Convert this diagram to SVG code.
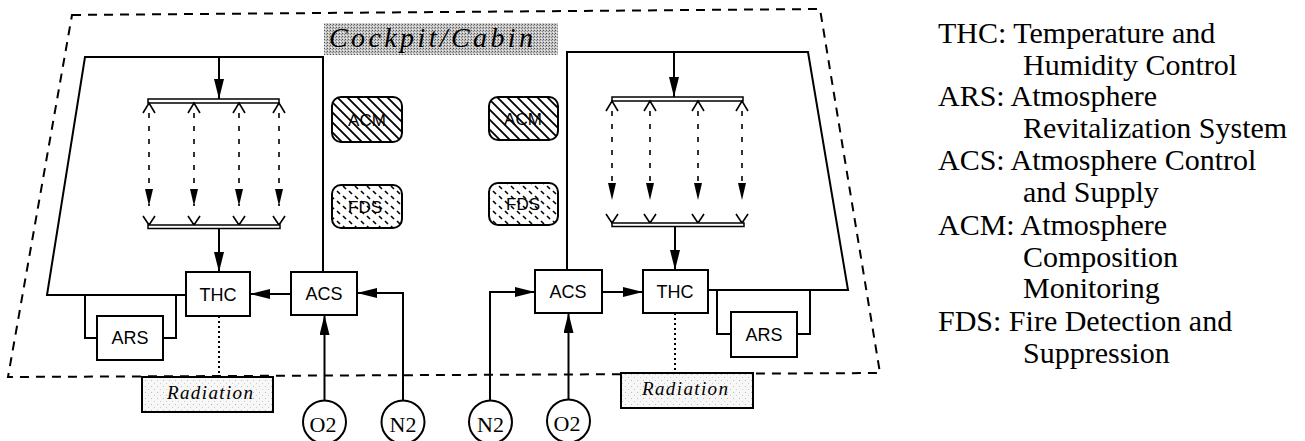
<svg xmlns="http://www.w3.org/2000/svg" width="1305" height="441" viewBox="0 0 1305 441">
<style>
.box{fill:#fff;stroke:#000;stroke-width:2}
.ln{fill:none;stroke:#000;stroke-width:2}
.thin{fill:none;stroke:#000;stroke-width:1.6}
.bus{fill:#fff;stroke:#000;stroke-width:1.5}
.dsh{fill:none;stroke:#000;stroke-width:1.6;stroke-dasharray:5 8}
.dot{fill:none;stroke:#000;stroke-width:2;stroke-dasharray:2 3}
.sans{font-family:"Liberation Sans",Arial,sans-serif;font-size:18px;fill:#000;text-anchor:middle}
.lbl{font-family:"Liberation Sans",Arial,sans-serif;font-size:17px;fill:#000;text-anchor:middle}
.ser{font-family:"Liberation Serif","Times New Roman",serif;font-size:22px;fill:#000;text-anchor:middle}
.ital{font-family:"Liberation Serif","Times New Roman",serif;font-style:italic;fill:#000}
.leg{font-family:"Liberation Serif","Times New Roman",serif;font-size:30px;fill:#000}
</style>
<defs>
<marker id="ah" markerUnits="userSpaceOnUse" markerWidth="20" markerHeight="10" refX="20" refY="5" orient="auto"><path d="M0,0 L20,5 L0,10 Z" fill="#000"/></marker>
<marker id="ahs" markerUnits="userSpaceOnUse" markerWidth="17" markerHeight="8" refX="17" refY="4" orient="auto"><path d="M0,0 L17,4 L0,8 Z" fill="#000"/></marker>
<pattern id="stip" width="3" height="3" patternUnits="userSpaceOnUse"><rect width="3" height="3" fill="#c4c4c4"/><rect x="0" y="0" width="1" height="1" fill="#555"/><rect x="2" y="1" width="1" height="1" fill="#888"/><rect x="1" y="2" width="1" height="1" fill="#eee"/></pattern>
<pattern id="light" width="6" height="6" patternUnits="userSpaceOnUse"><rect width="6" height="6" fill="#f7f7f7"/><rect x="1" y="2" width="1" height="1" fill="#bbb"/><rect x="4" y="5" width="1" height="1" fill="#ccc"/></pattern>
<pattern id="hatch" width="10" height="10" patternUnits="userSpaceOnUse"><rect width="10" height="10" fill="#fff"/><path d="M-2,-2 L12,12 M-2,8 L2,12 M8,-2 L12,2" stroke="#000" stroke-width="1.8"/></pattern>
<pattern id="fds" width="12" height="10" patternUnits="userSpaceOnUse"><rect width="12" height="10" fill="#fff"/><path d="M1,1 L4,4 M7,6 L10,9" stroke="#000" stroke-width="1.6"/></pattern>
</defs>

<g id="boundary">
<path d="M72,15 L820,9 L880,373 L8,377 Z" fill="none" stroke="#000" stroke-width="2" stroke-dasharray="9 7"/>
</g>

<g id="cockpit-label">
<rect x="324" y="23" width="234" height="32" fill="url(#stip)"/>
<text class="ital" x="329" y="47" font-size="28" textLength="204" lengthAdjust="spacing">Cockpit/Cabin</text>
</g>

<g id="connectors">
<polyline class="ln" points="186,295 47,295 85,57 323,57 323,272"/>
<line class="ln" x1="219" y1="57" x2="219" y2="99" marker-end="url(#ah)"/>
<rect class="bus" x="148" y="99" width="131" height="4"/>
<path class="thin" d="M143,113 L149,103 L155,113 M188,113 L194,103 L200,113 M233,113 L239,103 L245,113 M273,113 L279,103 L285,113"/>
<line class="dsh" x1="149" y1="113" x2="149" y2="206" marker-end="url(#ahs)"/>
<line class="dsh" x1="194" y1="113" x2="194" y2="206" marker-end="url(#ahs)"/>
<line class="dsh" x1="239" y1="113" x2="239" y2="206" marker-end="url(#ahs)"/>
<line class="dsh" x1="279" y1="113" x2="279" y2="206" marker-end="url(#ahs)"/>
<path class="thin" d="M143,216 L149,225 L155,216 M188,216 L194,225 L200,216 M233,216 L239,225 L245,216 M273,216 L279,225 L285,216"/>
<rect class="bus" x="148" y="225" width="132" height="3.5"/>
<line class="ln" x1="219" y1="228" x2="219" y2="272" marker-end="url(#ah)"/>
<polyline class="ln" points="85,295 85,338 97,338"/>
<polyline class="ln" points="163,338 176,338 176,295"/>
<line class="ln" x1="291" y1="294" x2="250" y2="294" marker-end="url(#ah)"/>
<line class="ln" x1="324.5" y1="400" x2="324.5" y2="315" marker-end="url(#ah)"/>
<polyline class="ln" points="403,400 403,293 357,293" marker-end="url(#ah)"/>
<line class="dot" x1="219" y1="316" x2="219" y2="377"/>
<polyline class="ln" points="708,290 848,290 808,52 567,52 567,270"/>
<line class="ln" x1="674" y1="52" x2="674" y2="97" marker-end="url(#ah)"/>
<rect class="bus" x="612" y="97" width="131" height="4"/>
<path class="thin" d="M606,111 L612,101 L618,111 M644,111 L650,101 L656,111 M692,111 L698,101 L704,111 M736,111 L742,101 L748,111"/>
<line class="dsh" x1="612" y1="111" x2="612" y2="200" marker-end="url(#ahs)"/>
<line class="dsh" x1="650" y1="111" x2="650" y2="200" marker-end="url(#ahs)"/>
<line class="dsh" x1="698" y1="111" x2="698" y2="200" marker-end="url(#ahs)"/>
<line class="dsh" x1="742" y1="111" x2="742" y2="200" marker-end="url(#ahs)"/>
<path class="thin" d="M606,214 L612,223 L618,214 M644,214 L650,223 L656,214 M692,214 L698,223 L704,214 M736,214 L742,223 L748,214"/>
<rect class="bus" x="612" y="223" width="132" height="3.5"/>
<line class="ln" x1="675" y1="226.5" x2="675" y2="270" marker-end="url(#ah)"/>
<polyline class="ln" points="717,290 717,334 731,334"/>
<polyline class="ln" points="797,334 810,334 810,290"/>
<line class="ln" x1="602" y1="292" x2="643" y2="292" marker-end="url(#ah)"/>
<line class="ln" x1="568.5" y1="400" x2="568.5" y2="313" marker-end="url(#ah)"/>
<polyline class="ln" points="490,400 490,292 535,292" marker-end="url(#ah)"/>
<line class="dot" x1="675" y1="313" x2="675" y2="373"/>
</g>

<g id="thc-left"><rect class="box" x="186" y="272" width="64" height="44"/><text class="sans" x="218" y="301">THC</text></g>
<g id="acs-left"><rect class="box" x="291" y="272" width="66" height="43"/><text class="sans" x="324" y="300">ACS</text></g>
<g id="ars-left"><rect class="box" x="97" y="316" width="66" height="44"/><text class="sans" x="130" y="344">ARS</text></g>
<g id="radiation-left"><rect x="142" y="377" width="131" height="35" fill="url(#light)" stroke="#000" stroke-width="2"/><text class="ital" x="167" y="399" font-size="19" textLength="86" lengthAdjust="spacing">Radiation</text></g>
<g id="acm-left"><rect x="332" y="97" width="70" height="45" rx="9" fill="url(#hatch)" stroke="#000" stroke-width="2"/><text class="lbl" x="367" y="126">ACM</text></g>
<g id="fds-left"><rect x="332" y="185" width="70" height="43" rx="9" fill="url(#fds)" stroke="#000" stroke-width="2"/><text class="lbl" x="365" y="213">FDS</text></g>
<g id="o2-left"><circle class="box" cx="324.5" cy="422" r="21.5"/><text class="ser" x="323" y="432">O2</text></g>
<g id="n2-left"><circle class="box" cx="403" cy="422" r="21.5"/><text class="ser" x="403" y="432">N2</text></g>

<g id="n2-right"><circle class="box" cx="490.5" cy="422" r="21.5"/><text class="ser" x="490.5" y="432">N2</text></g>
<g id="o2-right"><circle class="box" cx="568.5" cy="421" r="21.5"/><text class="ser" x="567" y="431">O2</text></g>
<g id="acm-right"><rect x="489" y="97" width="69" height="43" rx="9" fill="url(#hatch)" stroke="#000" stroke-width="2"/><text class="lbl" x="523" y="125">ACM</text></g>
<g id="fds-right"><rect x="489" y="183" width="69" height="42" rx="9" fill="url(#fds)" stroke="#000" stroke-width="2"/><text class="lbl" x="523" y="210">FDS</text></g>
<g id="acs-right"><rect class="box" x="535" y="270" width="67" height="43"/><text class="sans" x="568" y="298">ACS</text></g>
<g id="thc-right"><rect class="box" x="643" y="270" width="65" height="43"/><text class="sans" x="675" y="298">THC</text></g>
<g id="ars-right"><rect class="box" x="731" y="312" width="66" height="45"/><text class="sans" x="764" y="341">ARS</text></g>
<g id="radiation-right"><rect x="621" y="373" width="132" height="35" fill="url(#light)" stroke="#000" stroke-width="2"/><text class="ital" x="642" y="395" font-size="19" textLength="86" lengthAdjust="spacing">Radiation</text></g>

<g id="legend">
<text class="leg" x="938" y="43">THC: Temperature and</text>
<text class="leg" x="1023" y="75">Humidity Control</text>
<text class="leg" x="938" y="106">ARS: Atmosphere</text>
<text class="leg" x="1023" y="138">Revitalization System</text>
<text class="leg" x="938" y="170">ACS: Atmosphere Control</text>
<text class="leg" x="1023" y="202">and Supply</text>
<text class="leg" x="938" y="235">ACM: Atmosphere</text>
<text class="leg" x="1023" y="267">Composition</text>
<text class="leg" x="1023" y="298">Monitoring</text>
<text class="leg" x="938" y="331">FDS: Fire Detection and</text>
<text class="leg" x="1023" y="363">Suppression</text>
</g>
</svg>
